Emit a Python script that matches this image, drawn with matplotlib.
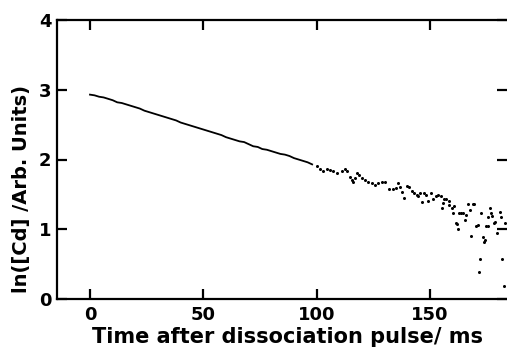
import matplotlib
matplotlib.use('Agg')
import matplotlib.pyplot as plt

# dense early part of the decay (drawn as a continuous trace)
t_line = [0, 2, 4, 6, 8, 10, 12, 14, 16, 18, 20, 22, 24, 26, 28, 30, 32, 34, 36, 38,
          40, 42, 44, 46, 48, 50, 52, 54, 56, 58, 60, 62, 64, 66, 68, 70, 72, 74, 76, 78,
          80, 82, 84, 86, 88, 90, 92, 94, 96, 98]
ln_line = [2.93, 2.92, 2.90, 2.89, 2.87, 2.85, 2.82, 2.81, 2.79, 2.77, 2.75, 2.73, 2.70, 2.68,
           2.66, 2.64, 2.62, 2.60, 2.58, 2.56, 2.53, 2.51, 2.49, 2.47, 2.45, 2.43, 2.41, 2.39,
           2.37, 2.35, 2.32, 2.30, 2.28, 2.26, 2.25, 2.22, 2.19, 2.18, 2.15, 2.14, 2.12, 2.10,
           2.08, 2.07, 2.05, 2.02, 2.00, 1.98, 1.96, 1.93]

# later, noisier part (individual points)
t_pts = [100, 101.5, 102.9, 104.4, 105.9, 107.3, 108.8, 111, 112.5, 113.5, 114.7, 115.4,
         116.2, 116.9, 117.9, 118.8, 119.9, 121.3, 122.8, 124.3, 125.7, 127.2, 128.7, 130.1,
         132, 133.5, 135, 136, 136.7, 137.5, 138.5, 139.7, 140.9, 141.9, 142.9, 144.1, 144.8,
         145.6, 146.6, 147.3, 148.2, 149.2, 150.3, 151.4, 152.6, 153.6, 154.8, 155.1, 155.7,
         156, 157, 158.2, 158.6, 159.7, 160.1, 160.7, 161.4, 161.9, 162.3, 162.6, 163.6,
         164.5, 165.6, 166, 166.6, 167.5, 168.2, 169, 169.5, 170.4, 171, 171.9, 171.5, 172.5,
         173.4, 173.9, 174.3, 174.8, 175.4, 175.8, 176.3, 176.9, 177.3, 178.1, 178.8, 179.5,
         180.7, 181.3, 181.9, 182.5, 183.2]
ln_pts = [1.90, 1.86, 1.84, 1.87, 1.85, 1.83, 1.80, 1.83, 1.86, 1.83, 1.75, 1.71,
          1.68, 1.73, 1.80, 1.78, 1.73, 1.71, 1.68, 1.66, 1.63, 1.66, 1.68, 1.68,
          1.57, 1.58, 1.59, 1.66, 1.61, 1.53, 1.45, 1.62, 1.60, 1.55, 1.52, 1.49, 1.47,
          1.52, 1.39, 1.52, 1.49, 1.40, 1.52, 1.44, 1.47, 1.49, 1.48, 1.30, 1.37,
          1.44, 1.44, 1.40, 1.35, 1.30, 1.23, 1.33, 1.09, 1.07, 1.00, 1.23, 1.24,
          1.23, 1.13, 1.20, 1.36, 1.28, 0.90, 1.36, 1.36, 1.05, 1.06, 0.57, 0.39, 1.23,
          0.89, 0.82, 0.84, 1.04, 1.17, 1.04, 1.30, 1.24, 1.19, 1.09, 1.11, 0.95,
          1.25, 1.18, 0.58, 0.19, 1.09]

plt.rcParams['font.family'] = 'DejaVu Sans'
plt.rcParams['font.weight'] = 'bold'

fig = plt.figure(figsize=(5.07, 3.51), dpi=100)
ax = fig.add_axes([57 / 507, 1 - 299 / 351, 450 / 507, 279 / 351])

ax.plot(t_line, ln_line, color='black', lw=1.3)
ax.plot(t_pts, ln_pts, 'o', color='black', ms=2.2, mew=0)

ax.set_xlim(-14.56, 183.97)
ax.set_ylim(0, 4)
ax.set_xticks([0, 50, 100, 150])
ax.set_yticks([0, 1, 2, 3, 4])

for s in ['left', 'bottom', 'top']:
    ax.spines[s].set_linewidth(1.6)
ax.spines['right'].set_visible(False)

ax.tick_params(direction='in', length=7, width=1.6, labelsize=13,
               top=True, right=True, pad=4)
ax.tick_params(axis='x', pad=5)

fig.text(22 / 507, 1 - 189 / 351, 'ln([Cd] /Arb. Units)', rotation=90,
         ha='center', va='center', fontsize=14, fontweight='bold')
fig.text(288 / 507, 1 - 337 / 351, 'Time after dissociation pulse/ ms',
         ha='center', va='center', fontsize=15, fontweight='bold')

fig.savefig('out.png', dpi=100)
